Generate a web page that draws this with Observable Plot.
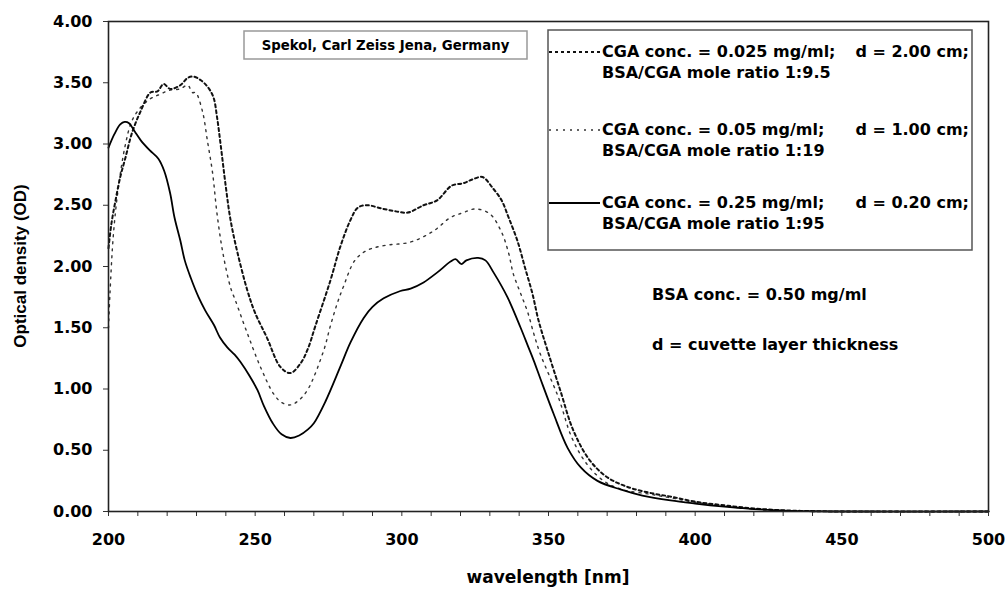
<!DOCTYPE html>
<html><head><meta charset="utf-8">
<script src="https://cdn.jsdelivr.net/npm/d3@7"></script>
<script src="https://cdn.jsdelivr.net/npm/@observablehq/plot@0.6"></script>
<style>
body{margin:0;background:#fff}
#chart{position:relative;width:1007px;height:590px}
</style>
</head><body><div id="chart"></div>
<script>
// Series 1: CGA 0.025 mg/ml, d = 2.00 cm (dashed)
const wl1 = [200,201,202.4,204,205.8,208,211,214.3,216.7,218.8,221,224.5,227,229,231.5,234,235.8,237,238.2,240,241.6,244,247.4,250,254,258.6,262,265.5,268,270.6,275.7,279,282.5,285,288,293.7,298,302,307.4,312,317,321,324,327.5,331,334,336.4,339.4,342,344.5,346.6,349.6,354,358.5,364,370,377,385,392,400,410,420,430,440,450,500];
const od1 = [2.15,2.35,2.54,2.73,2.89,3.09,3.27,3.42,3.43,3.49,3.45,3.48,3.54,3.55,3.52,3.46,3.38,3.22,3.00,2.65,2.38,2.11,1.80,1.62,1.42,1.18,1.13,1.21,1.33,1.52,1.89,2.16,2.38,2.48,2.50,2.47,2.45,2.44,2.50,2.54,2.66,2.68,2.71,2.73,2.64,2.54,2.40,2.21,1.99,1.78,1.56,1.32,0.99,0.66,0.42,0.28,0.20,0.15,0.12,0.08,0.05,0.025,0.01,0.003,0,0];
// Series 2: CGA 0.05 mg/ml, d = 1.00 cm (dotted)
const wl2 = [200,200.5,201.7,203.4,205.8,208,211,214.3,217,221,224.5,227,228.6,229.7,232,233.7,235.5,237,239,241.6,243.3,247.4,251.8,256.3,259,262,264.5,267.8,273.3,275.7,278,280,284,288,293.7,303,310.8,316.6,321,325,330,334,336.4,338,340.5,343,345,347.3,353.4,358,363,368.8,375,385,392,400,410,420,430,440,450,500];
const od2 = [1.50,1.78,2.27,2.65,3.00,3.19,3.30,3.37,3.40,3.44,3.45,3.48,3.42,3.42,3.27,3.03,2.76,2.43,2.11,1.83,1.72,1.45,1.18,0.96,0.89,0.87,0.90,0.99,1.31,1.52,1.70,1.83,2.05,2.13,2.17,2.20,2.29,2.40,2.44,2.47,2.43,2.28,2.11,1.94,1.78,1.62,1.45,1.28,0.93,0.60,0.39,0.25,0.18,0.14,0.11,0.075,0.045,0.02,0.008,0.002,0,0];
// Series 3: CGA 0.25 mg/ml, d = 0.20 cm (solid)
const wl3 = [200,202,204,205.5,207,209,211,214,217,219,221,222.5,224.5,226,228,230.7,233,236,238,240.5,243,245,248,250.8,253,256,259,262,265,268,270,274,279,282.5,287,290,293.8,299.5,303,307.4,312,316.6,318.3,320.3,322,326,328.5,331.3,336,340.5,343,345,347.3,351.7,356.5,361,366.7,374.5,382,391.6,400,410,420,430,440,450,500];
const od3 = [2.97,3.08,3.16,3.18,3.17,3.10,3.03,2.95,2.88,2.78,2.60,2.40,2.21,2.05,1.91,1.75,1.64,1.52,1.42,1.34,1.28,1.22,1.11,0.99,0.86,0.72,0.63,0.60,0.62,0.67,0.72,0.90,1.18,1.38,1.58,1.67,1.74,1.80,1.82,1.87,1.95,2.04,2.06,2.02,2.05,2.07,2.05,1.95,1.75,1.50,1.35,1.23,1.08,0.80,0.52,0.36,0.25,0.18,0.13,0.09,0.065,0.04,0.02,0.007,0.002,0,0];

const yTicks = [0,0.5,1,1.5,2,2.5,3,3.5,4];
const xTicks = [200,250,300,350,400,450,500];
const xMinor = d3.range(200, 501, 10);

const legendLines = [
  ["CGA conc. = 0.025 mg/ml;", "d = 2.00 cm;", "BSA/CGA mole ratio 1:9.5"],
  ["CGA conc. = 0.05 mg/ml;", "d = 1.00 cm;", "BSA/CGA mole ratio 1:19"],
  ["CGA conc. = 0.25 mg/ml;", "d = 0.20 cm;", "BSA/CGA mole ratio 1:95"]
];
const instrument = "Spekol, Carl Zeiss Jena, Germany";
const notes = ["BSA conc. = 0.50 mg/ml", "d = cuvette layer thickness"];
const xTitle = "wavelength [nm]";
const yTitle = "Optical density (OD)";

const styles = [
  {stroke: "#111", strokeWidth: 2, strokeDasharray: "3,3"},
  {stroke: "#333", strokeWidth: 1.4, strokeDasharray: "2,5"},
  {stroke: "#000", strokeWidth: 1.8, strokeDasharray: null}
];

const s1 = wl1.map((w, i) => ({wl: w, od: od1[i]}));
const s2 = wl2.map((w, i) => ({wl: w, od: od2[i]}));
const s3 = wl3.map((w, i) => ({wl: w, od: od3[i]}));

const font = "'DejaVu Sans', Arial, sans-serif";
const fontV = "'Liberation Sans', Arial, sans-serif";

const chart = Plot.plot({
  width: 1007, height: 590,
  marginLeft: 108, marginRight: 19, marginTop: 21, marginBottom: 79,
  style: {fontFamily: font, fontSize: "16px", fontWeight: "bold", color: "#000", background: "#fff"},
  x: {domain: [200, 500]},
  y: {domain: [0, 4]},
  marks: [
    Plot.line(s2, {x: "wl", y: "od", curve: "catmull-rom", ...styles[1]}),
    Plot.line(s1, {x: "wl", y: "od", curve: "catmull-rom", ...styles[0]}),
    Plot.line(s3, {x: "wl", y: "od", curve: "catmull-rom", ...styles[2]}),
    Plot.axisY({ticks: yTicks, tickFormat: d3.format(".2f"), tickSize: 5, tickPadding: 11, label: null, stroke: "#333"}),
    Plot.axisX({ticks: xTicks, tickSize: 0, tickPadding: 22, label: null}),
    Plot.axisX({ticks: xMinor, tickSize: 5, tickFormat: () => "", label: null, stroke: "#333"}),
    Plot.frame({stroke: "#222", strokeWidth: 1.6})
  ]
});

const svg = d3.select(chart);
function txt(x, y, s, size, anchor, family) {
  return svg.append("text").attr("x", x).attr("y", y)
    .attr("text-anchor", anchor || "start").attr("dominant-baseline", "middle")
    .attr("font-family", family || font).attr("font-size", size).attr("font-weight", "bold")
    .attr("fill", "#000").text(s);
}

// axis titles
txt(548, 578, xTitle, 17, "middle");
txt(0, 0, yTitle, 17, "middle", fontV).attr("transform", "translate(22,266) rotate(-90)");

// instrument box
svg.append("rect").attr("x", 244).attr("y", 31).attr("width", 283).attr("height", 28)
  .attr("fill", "#fff").attr("stroke", "#999").attr("stroke-width", 1.5);
txt(385.5, 45.5, instrument, 13.3, "middle");

// legend box
svg.append("rect").attr("x", 548).attr("y", 30).attr("width", 424).attr("height", 220)
  .attr("fill", "#fff").attr("stroke", "#555").attr("stroke-width", 1.5);
const rowY = [52, 130, 203];
legendLines.forEach((lines, i) => {
  const y = rowY[i];
  const st = styles[i];
  svg.append("line").attr("x1", 549).attr("x2", 600).attr("y1", y).attr("y2", y)
    .attr("stroke", st.stroke).attr("stroke-width", st.strokeWidth)
    .attr("stroke-dasharray", st.strokeDasharray);
  txt(602, y, lines[0], 16);
  txt(969, y, lines[1], 16, "end");
  txt(602, y + 21, lines[2], 16);
});

// notes
txt(652, 295, notes[0], 16);
txt(652, 345, notes[1], 16);

document.getElementById("chart").appendChild(chart);
</script>
</body></html>
